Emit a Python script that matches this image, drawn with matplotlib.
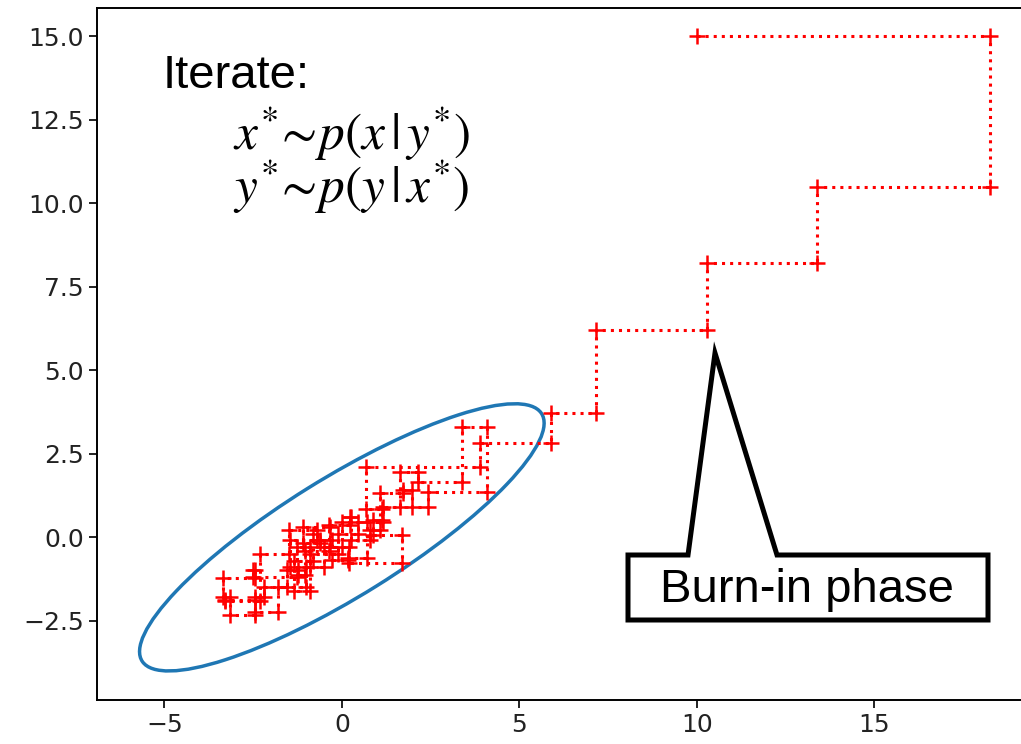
import matplotlib
matplotlib.use('Agg')
import matplotlib.pyplot as plt
import numpy as np
from matplotlib.patches import Ellipse, Polygon

# Gibbs sampler draws: start point, then one (x, y) pair per iteration
x_draws = [10.0, 18.28, 13.38, 10.28, 7.16, 5.9, 3.89, 0.68, 1.13, 0.87,
           1.69, 0.2, -0.34, -1.1, -0.62, -1.46, -0.9, -1.27, -2.5, -2.45,
           -3.35, -3.15, -2.45, -2.2, -1.55, -1.24, -1.04, -0.35, 0.23, 0.25,
           0.79, 1.07, 1.72, 1.97, 2.42, 4.08, 3.38, 2.14, 1.63, 1.15,
           0.7, 0.17, -0.28, -0.7, -1.5, -2.3, -3.3, -2.45, -1.8, -1.0,
           -0.5, 0.0, 0.45, -0.1, -0.9, -1.35, -0.8]
y_draws = [15.0, 10.5, 8.22, 6.22, 3.73, 2.83, 2.12, 0.85, 0.53, 0.08,
           -0.76, -0.3, 0.32, -0.16, -0.07, -0.88, -0.28, -1.18, -0.97, -1.21,
           -1.8, -2.32, -1.8, -1.48, -0.97, -1.12, -0.4, 0.38, 0.62, -0.07,
           0.23, 1.34, 1.43, 0.92, 1.37, 3.31, 1.67, 1.96, 0.92, 0.47,
           -0.61, -0.67, -0.07, 0.23, -0.5, -1.9, -1.87, -2.25, -1.5, -0.88,
           -0.3, 0.45, 0.1, -0.5, -1.6, -0.7, 0.1]

# target distribution contour
target_mean = [0.0, 0.0]
target_cov = [[32.5, 19.5], [19.5, 16.0]]

x_ticks = [-5, 0, 5, 10, 15]
y_ticks = [-2.5, 0.0, 2.5, 5.0, 7.5, 10.0, 12.5, 15.0]

# staircase path: x update moves horizontally, y update moves vertically
path_x = [x_draws[0]]
path_y = [y_draws[0]]
for xn, yn in zip(x_draws[1:], y_draws[1:]):
    path_x += [xn, xn]
    path_y += [path_y[-1], yn]

plt.rcParams['mathtext.fontset'] = 'stix'

W, H = 1021, 744
fig = plt.figure(figsize=(W / 100, H / 100), dpi=100)
ax = fig.add_axes([97 / W, 1 - 700 / H, 935 / W, 692 / H])

ax.plot(path_x, path_y, 'r+:', lw=2.2, ms=11.5, mew=1.8)

vals, vecs = np.linalg.eigh(np.array(target_cov))
angle = np.degrees(np.arctan2(vecs[1, 1], vecs[0, 1]))
ax.add_patch(Ellipse(target_mean, 2 * np.sqrt(vals[1]), 2 * np.sqrt(vals[0]),
                     angle=angle, fill=False, ec='#1f77b4', lw=2.5))

ax.set_xlim(-6.9, 19.45)
ax.set_ylim(-4.87, 15.85)
ax.set_xticks(x_ticks)
ax.set_yticks(y_ticks)
ax.tick_params(labelsize=18, length=6, width=1.4, colors='#222222')
for s in ax.spines.values():
    s.set_linewidth(1.4)

# text annotations
fig.text(163 / W, 1 - 88 / H, 'Iterate:', fontsize=34,
         family='Liberation Sans', va='baseline')
fig.text(233 / W, 1 - 134 / H, r'$x^{*}\!\sim\! p(x\,\vert\,y^{*})$',
         fontsize=37, va='center')
fig.text(233 / W, 1 - 187 / H, r'$y^{*}\!\sim\! p(y\,\vert\,x^{*})$',
         fontsize=37, va='center')

# callout box
callout = [(628, 555), (688, 555), (715, 353), (777, 555), (988, 555),
           (988, 620), (628, 620)]
fig.patches.append(Polygon([(px / W, 1 - py / H) for px, py in callout],
                           closed=True, fc='white', ec='black', lw=3.6,
                           joinstyle='miter', transform=fig.transFigure))
fig.text(807 / W, 1 - 590 / H, 'Burn-in phase', fontsize=34,
         family='Liberation Sans', ha='center', va='center')

fig.savefig('out.png', dpi=100)
